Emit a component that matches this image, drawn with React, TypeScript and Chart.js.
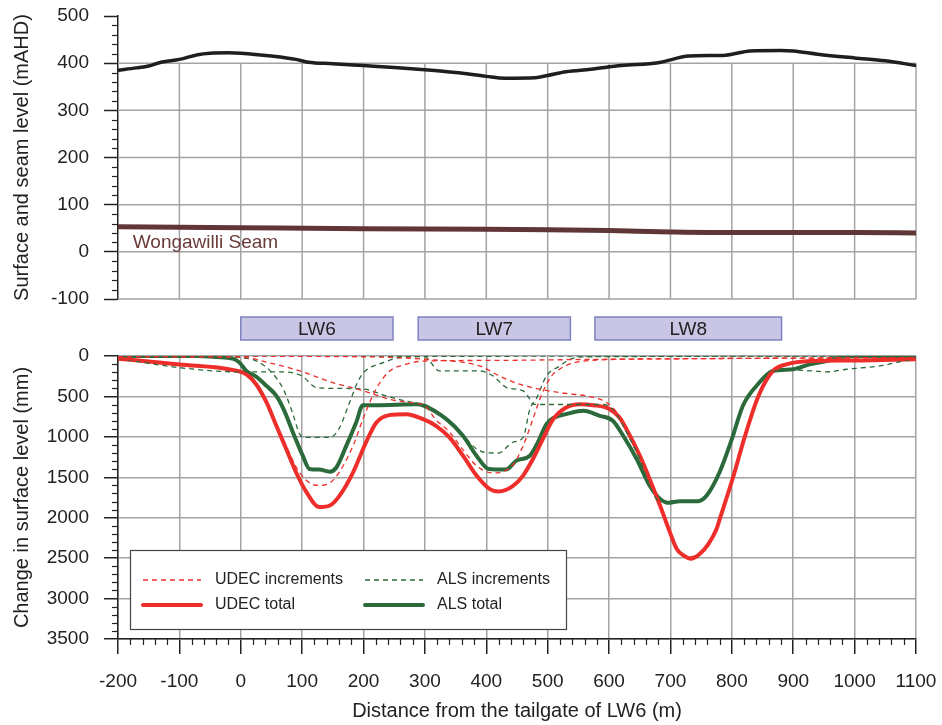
import React, { useEffect, useRef } from "react";
import { Chart, registerables } from "chart.js";
Chart.register(...registerables);

const FONT = '"Liberation Sans", Arial, Helvetica, sans-serif';
const INK = "#222222";
const GRID = "#a3a3a3";
const RED = "#ee2e2b";
const GREEN = "#2b6a3b";

// ---------- top panel data ----------
const surfaceX = [-200, -170, -150, -130, -100, -70, -50, -20, 0, 50, 90, 110, 150, 200, 250, 300, 350, 400, 430, 480, 500, 530, 570, 620, 680, 730, 790, 830, 880, 900, 940, 1000, 1050, 1100];
const surfaceY = [385, 390, 394, 402, 408, 418, 421, 422, 421, 415, 408, 402, 399, 395, 391, 386, 380, 372, 368, 369, 374, 382, 387, 395, 401, 415, 417, 426, 427, 426, 419, 411, 405, 395];
const seamX = [-200, 0, 200, 400, 500, 600, 700, 760, 1000, 1100];
const seamY = [53, 51, 49, 48, 47, 45, 42, 41, 41, 40];
const seamLabel = "Wongawilli Seam";

// ---------- longwall panels ----------
const panelNames = ["LW6", "LW7", "LW8"];
const panelStart = [0, 289, 577];
const panelEnd = [248, 537, 881];

// ---------- bottom panel data (subsidence, mm) ----------
const udecTotalX = [-200, -100, -13, 9, 25, 42, 58, 74, 90, 107, 128, 145, 161, 183, 204, 221, 242, 270, 297, 318, 340, 362, 384, 405, 420, 443, 460, 476, 492, 509, 530, 552, 574, 601, 617, 634, 650, 666, 683, 699, 710, 721, 734, 748, 762, 775, 781, 802, 821, 843, 867, 889, 933, 1000, 1100];
const udecTotalY = [33, 105, 173, 226, 349, 575, 863, 1150, 1438, 1684, 1869, 1849, 1726, 1438, 1068, 822, 731, 719, 781, 863, 1007, 1233, 1479, 1643, 1676, 1610, 1479, 1273, 1027, 781, 637, 596, 608, 657, 760, 986, 1233, 1520, 1849, 2178, 2383, 2467, 2508, 2447, 2324, 2139, 2000, 1500, 1000, 500, 185, 103, 62, 55, 40];

const alsTotalX = [-200, -72, -40, -13, -2, 9, 25, 42, 58, 71, 85, 101, 112, 128, 145, 156, 172, 188, 199, 221, 286, 299, 335, 362, 384, 404, 432, 449, 471, 484, 498, 511, 530, 558, 585, 606, 623, 645, 666, 683, 696, 715, 745, 759, 780, 800, 818, 840, 867, 900, 927, 954, 982, 1000, 1100];
const alsTotalY = [0, 0, 12, 33, 82, 185, 255, 370, 493, 678, 945, 1233, 1397, 1405, 1430, 1376, 1109, 822, 608, 608, 596, 616, 781, 986, 1233, 1397, 1405, 1294, 1233, 1068, 842, 760, 719, 678, 740, 801, 986, 1274, 1602, 1767, 1816, 1795, 1795, 1726, 1438, 1027, 616, 370, 185, 164, 103, 62, 8, 0, 0];

const udecInc6X = [-200, -100, -13, 9, 25, 42, 58, 74, 90, 107, 126, 145, 161, 183, 200, 221, 242, 270, 300, 400, 600, 800, 1100];
const udecInc6Y = [33, 100, 170, 220, 340, 560, 840, 1110, 1370, 1540, 1600, 1570, 1430, 1110, 760, 400, 190, 100, 62, 55, 40, 30, 20];

const udecInc7X = [-200, 0, 50, 96, 150, 200, 242, 280, 299, 318, 340, 362, 383, 400, 413, 430, 445, 460, 475, 490, 505, 520, 540, 580, 700, 1100];
const udecInc7Y = [10, 15, 90, 185, 329, 430, 534, 580, 610, 790, 940, 1160, 1350, 1430, 1446, 1420, 1330, 1110, 800, 480, 260, 160, 90, 50, 35, 20];

const udecInc8X = [-200, 200, 300, 389, 421, 454, 487, 530, 568, 596, 617, 634, 650, 666, 683, 699, 710, 721, 734, 748, 762, 775, 781, 802, 821, 843, 867, 889, 933, 1000, 1100];
const udecInc8Y = [0, 10, 40, 123, 246, 349, 411, 464, 501, 575, 740, 970, 1210, 1500, 1820, 2150, 2360, 2450, 2480, 2430, 2310, 2130, 1990, 1490, 990, 490, 180, 100, 60, 55, 40];

const alsInc6X = [-200, -50, 0, 25, 50, 70, 85, 95, 101, 145, 160, 175, 190, 200, 232, 259, 300, 1100];
const alsInc6Y = [0, 0, 20, 60, 200, 420, 720, 950, 1007, 1007, 900, 620, 330, 205, 82, 20, 5, 0];

const alsInc7X = [-200, -100, 0, 70, 100, 123, 150, 200, 240, 290, 300, 335, 362, 384, 400, 420, 443, 460, 471, 481, 498, 520, 536, 560, 1100];
const alsInc7Y = [30, 144, 197, 197, 250, 390, 400, 410, 500, 590, 600, 780, 980, 1150, 1195, 1200, 1068, 1007, 657, 534, 246, 123, 41, 10, 0];

const alsInc8X = [-200, 299, 324, 389, 411, 433, 460, 471, 476, 498, 590, 606, 617, 634, 650, 666, 677, 685, 745, 759, 780, 800, 818, 840, 867, 900, 933, 954, 987, 1041, 1096, 1100];
const alsInc8Y = [0, 8, 185, 185, 246, 390, 431, 534, 596, 600, 600, 657, 781, 1027, 1274, 1602, 1767, 1795, 1795, 1726, 1438, 1027, 616, 370, 185, 175, 185, 197, 164, 123, 41, 40];

const legendLabels = ["UDEC increments", "ALS increments", "UDEC total", "ALS total"];

const zip = (xs: number[], ys: number[]) => xs.map((x, i) => ({ x, y: ys[i] }));

const minorTicks = (axisOpts: { id: string; step: number; major: number; len: number }[]) => ({
  id: "minorTicks",
  afterDraw(chart: any) {
    const { ctx, chartArea } = chart;
    ctx.save();
    ctx.strokeStyle = INK;
    ctx.lineWidth = 1.2;
    for (const a of axisOpts) {
      const s = chart.scales[a.id];
      for (let v = s.min; v <= s.max + 1e-6; v += a.step) {
        if (Math.abs(v / a.major - Math.round(v / a.major)) < 1e-6) continue;
        const p = Math.round(s.getPixelForValue(v)) + 0.5;
        ctx.beginPath();
        if (a.id === "x") {
          ctx.moveTo(p, chartArea.bottom);
          ctx.lineTo(p, chartArea.bottom + a.len);
        } else {
          ctx.moveTo(chartArea.left, p);
          ctx.lineTo(chartArea.left - a.len, p);
        }
        ctx.stroke();
      }
    }
    ctx.restore();
  },
});

const topGrid = {
  id: "topGrid",
  beforeDatasetsDraw(chart: any) {
    const { ctx, chartArea, scales } = chart;
    const x = scales.x, y = scales.y;
    ctx.save();
    ctx.strokeStyle = GRID;
    ctx.lineWidth = 1.5;
    for (let v = -100; v <= 400; v += 100) {
      const p = y.getPixelForValue(v);
      ctx.beginPath();
      ctx.moveTo(chartArea.left, p);
      ctx.lineTo(chartArea.right, p);
      ctx.stroke();
    }
    for (let m = -100; m <= 1100; m += 100) {
      const p = x.getPixelForValue(m);
      ctx.beginPath();
      ctx.moveTo(p, y.getPixelForValue(400));
      ctx.lineTo(p, y.getPixelForValue(-100));
      ctx.stroke();
    }
    ctx.restore();
  },
  afterDatasetsDraw(chart: any) {
    const { ctx, scales } = chart;
    ctx.save();
    ctx.fillStyle = "#6a3a3a";
    ctx.font = "19px " + FONT;
    ctx.textBaseline = "middle";
    ctx.textAlign = "left";
    ctx.fillText(seamLabel, scales.x.getPixelForValue(-176), scales.y.getPixelForValue(19));
    ctx.restore();
  },
};

const bottomDecor = {
  id: "bottomDecor",
  afterDraw(chart: any) {
    const { ctx, chartArea, scales } = chart;
    const x = scales.x;
    ctx.save();
    // longwall panels
    for (let i = 0; i < panelNames.length; i++) {
      const x0 = x.getPixelForValue(panelStart[i]);
      const x1 = x.getPixelForValue(panelEnd[i]);
      const y0 = chartArea.top - 39;
      const h = 23;
      ctx.fillStyle = "#c9c6e5";
      ctx.fillRect(x0, y0, x1 - x0, h);
      ctx.strokeStyle = "#7f82c0";
      ctx.lineWidth = 1.5;
      ctx.strokeRect(x0, y0, x1 - x0, h);
      ctx.fillStyle = INK;
      ctx.font = "19px " + FONT;
      ctx.textAlign = "center";
      ctx.textBaseline = "middle";
      ctx.fillText(panelNames[i], (x0 + x1) / 2, y0 + h / 2 + 1);
    }
    // legend
    const lx = chartArea.left + 12, ly = chartArea.top + 194, lw = 436, lh = 79;
    ctx.fillStyle = "#ffffff";
    ctx.fillRect(lx, ly, lw, lh);
    ctx.strokeStyle = "#444";
    ctx.lineWidth = 1.2;
    ctx.strokeRect(lx + 0.5, ly + 0.5, lw, lh);
    const items = [
      { c: RED, w: 1.3, d: [5, 4], col: 0, row: 0 },
      { c: GREEN, w: 1.3, d: [5, 4], col: 1, row: 0 },
      { c: RED, w: 4, d: [], col: 0, row: 1 },
      { c: GREEN, w: 4, d: [], col: 1, row: 1 },
    ];
    items.forEach((it, i) => {
      const cy = ly + 30 + it.row * 25;
      const sx = lx + (it.col === 0 ? 13 : 235);
      ctx.strokeStyle = it.c;
      ctx.lineWidth = it.w;
      ctx.setLineDash(it.d);
      ctx.lineCap = it.d.length ? "butt" : "round";
      ctx.beginPath();
      ctx.moveTo(sx, cy);
      ctx.lineTo(sx + 58, cy);
      ctx.stroke();
      ctx.setLineDash([]);
      ctx.fillStyle = INK;
      ctx.font = "16px " + FONT;
      ctx.textAlign = "left";
      ctx.textBaseline = "middle";
      ctx.fillText(legendLabels[i], sx + 72, cy);
    });
    ctx.restore();
  },
};

function dashed(data: { x: number; y: number }[], color: string) {
  return {
    data,
    borderColor: color,
    borderWidth: 1.3,
    borderDash: [5, 4],
    pointRadius: 0,
    fill: false,
    cubicInterpolationMode: "monotone" as const,
  };
}
function solid(data: { x: number; y: number }[], color: string, w: number) {
  return {
    data,
    borderColor: color,
    borderWidth: w,
    pointRadius: 0,
    fill: false,
    cubicInterpolationMode: "monotone" as const,
  };
}

const plain = (v: any) => String(v);

export default function App() {
  const topRef = useRef<HTMLCanvasElement>(null);
  const botRef = useRef<HTMLCanvasElement>(null);

  useEffect(() => {
    const tickFont = { family: FONT, size: 19 };
    const titleFont = { family: FONT, size: 20 };
    const top = new Chart(topRef.current!, {
      type: "line",
      data: {
        datasets: [
          solid(zip(surfaceX, surfaceY), "#1e1e1e", 3.5) as any,
          solid(zip(seamX, seamY), "#5f3535", 5) as any,
        ],
      },
      options: {
        responsive: false,
        animation: false,
        layout: { padding: { top: 16, bottom: 13, right: 26, left: 0 } },
        plugins: { legend: { display: false }, tooltip: { enabled: false } },
        scales: {
          x: { type: "linear", min: -200, max: 1100, display: false },
          y: {
            type: "linear",
            min: -100,
            max: 500,
            ticks: { stepSize: 100, font: tickFont, color: INK, padding: 15, callback: plain },
            grid: { drawOnChartArea: false, drawTicks: true, tickLength: 14, tickColor: INK, tickWidth: 1.5 },
            border: { display: true, color: INK, width: 1.5 },
            title: { display: true, text: "Surface and seam level (mAHD)", font: titleFont, color: INK, padding: { top: 10, bottom: 0 } },
            afterFit: (s: any) => { s.width = 118; s.paddingTop = 0; s.paddingBottom = 0; },
          },
        },
      },
      plugins: [topGrid, minorTicks([{ id: "y", step: 20, major: 100, len: 6 }])],
    });

    const bot = new Chart(botRef.current!, {
      type: "line",
      data: {
        datasets: [
          dashed(zip(udecInc6X, udecInc6Y), RED) as any,
          dashed(zip(udecInc7X, udecInc7Y), RED) as any,
          dashed(zip(udecInc8X, udecInc8Y), RED) as any,
          dashed(zip(alsInc6X, alsInc6Y), GREEN) as any,
          dashed(zip(alsInc7X, alsInc7Y), GREEN) as any,
          dashed(zip(alsInc8X, alsInc8Y), GREEN) as any,
          solid(zip(udecTotalX, udecTotalY), RED, 4) as any,
          solid(zip(alsTotalX, alsTotalY), GREEN, 4) as any,
        ],
      },
      options: {
        responsive: false,
        animation: false,
        layout: { padding: { top: 44, bottom: 0, right: 26, left: 0 } },
        plugins: { legend: { display: false }, tooltip: { enabled: false } },
        scales: {
          x: {
            type: "linear",
            min: -200,
            max: 1100,
            ticks: { stepSize: 100, font: tickFont, color: INK, padding: 16, maxRotation: 0, callback: plain },
            grid: { color: GRID, lineWidth: 1.5, drawTicks: true, tickLength: 15, tickColor: INK, tickWidth: 1.5 },
            border: { display: true, color: INK, width: 1.5 },
            title: { display: true, text: "Distance from the tailgate of LW6 (m)", font: titleFont, color: INK, padding: { top: 0, bottom: 2 } },
            afterFit: (s: any) => { s.height = 86; s.paddingLeft = 0; s.paddingRight = 0; },
          },
          y: {
            type: "linear",
            min: 0,
            max: 3500,
            reverse: true,
            ticks: { stepSize: 500, font: tickFont, color: INK, padding: 15, callback: plain },
            grid: { color: GRID, lineWidth: 1.5, drawTicks: true, tickLength: 14, tickColor: INK, tickWidth: 1.5 },
            border: { display: true, color: INK, width: 1.5 },
            title: { display: true, text: "Change in surface level (mm)", font: titleFont, color: INK, padding: { top: 10, bottom: 0 } },
            afterFit: (s: any) => { s.width = 118; s.paddingTop = 0; s.paddingBottom = 0; },
          },
        },
      },
      plugins: [bottomDecor, minorTicks([{ id: "x", step: 20, major: 100, len: 6 }, { id: "y", step: 100, major: 500, len: 6 }])],
    });

    return () => {
      top.destroy();
      bot.destroy();
    };
  }, []);

  return (
    <div style={{ position: "absolute", left: 0, top: 0, width: 942, height: 725, background: "#fff" }}>
      <canvas ref={topRef} width={942} height={312} style={{ position: "absolute", left: 0, top: 0, width: 942, height: 312 }} />
      <canvas ref={botRef} width={942} height={413} style={{ position: "absolute", left: 0, top: 312, width: 942, height: 413 }} />
    </div>
  );
}
